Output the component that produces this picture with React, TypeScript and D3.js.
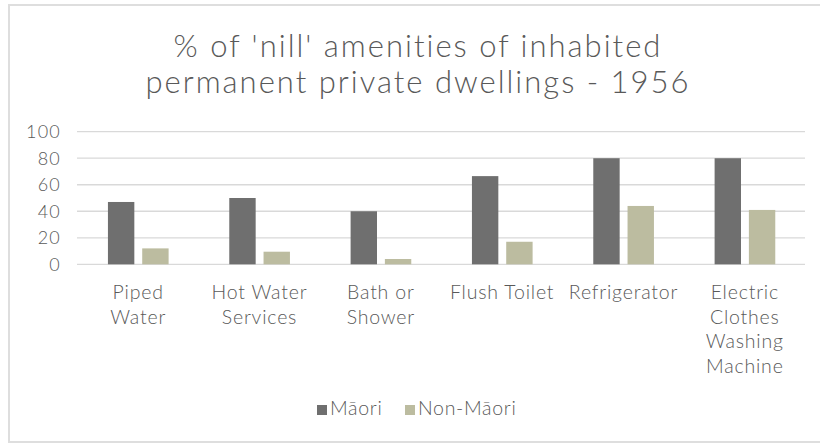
import React from "react";
import * as d3 from "d3";

const categories = ["Piped Water", "Hot Water Services", "Bath or Shower", "Flush Toilet", "Refrigerator", "Electric Clothes Washing Machine"];
const categoryLines = [["Piped", "Water"], ["Hot Water", "Services"], ["Bath or", "Shower"], ["Flush Toilet"], ["Refrigerator"], ["Electric", "Clothes", "Washing", "Machine"]];
const seriesNames = ["Māori", "Non-Māori"];
const maori = [47, 50, 40, 66.5, 80, 80];
const nonMaori = [12, 9.5, 4, 17, 44, 41];
const yTicks = [0, 20, 40, 60, 80, 100];
const titleLines = ["% of 'nill' amenities of inhabited", "permanent private dwellings - 1956"];

const W = 820, H = 445;
const FONT = "Lato, 'Open Sans', sans-serif";
const TEXT = "#595959";
const COLORS = ["#6f6f6f", "#bcbca0"];

export default function App() {
  const x0 = d3.scaleBand<string>().domain(categories).range([77, 805]).paddingInner(0).paddingOuter(0);
  const step = x0.bandwidth();
  const x1 = d3.scaleBand<string>().domain(seriesNames).range([step * 0.255, step * 0.755]).paddingInner(0.23).paddingOuter(0);
  const y = d3.scaleLinear().domain([0, 100]).range([264.3, 131.7]);
  const series = [maori, nonMaori];

  return (
    <svg width={W} height={H} style={{ position: "absolute", left: 0, top: 0, background: "#fff" }} fontFamily={FONT}>
      <rect x={9} y={5} width={830} height={437} fill="#fff" stroke="#dedede" strokeWidth={2} />
      {titleLines.map((t, i) => (
        <text key={i} x={418} y={57 + i * 36} textAnchor="middle" fontSize={31} letterSpacing={2} fill={TEXT} fontWeight={300}>{t}</text>
      ))}
      {yTicks.map((t) => (
        <g key={t}>
          <line x1={77} x2={805} y1={y(t)} y2={y(t)} stroke="#d9d9d9" strokeWidth={1.3} />
          <text x={61} y={y(t)} dy="0.36em" textAnchor="end" fontSize={18} letterSpacing={1.2} fill={TEXT} fontWeight={300}>{t}</text>
        </g>
      ))}
      {categories.map((c, ci) => (
        <g key={c} transform={`translate(${x0(c)},0)`}>
          {seriesNames.map((s, si) => (
            <rect key={s} x={x1(s)} width={x1.bandwidth()} y={y(series[si][ci])} height={y(0) - y(series[si][ci])} fill={COLORS[si]} />
          ))}
          {categoryLines[ci].map((l, li) => (
            <text key={li} x={step / 2 + 0.5} y={299 + li * 24.5} textAnchor="middle" fontSize={19.5} letterSpacing={0.8} fill={TEXT} fontWeight={300}>{l}</text>
          ))}
        </g>
      ))}
      <g>
        <rect x={317} y={405} width={10} height={10} fill={COLORS[0]} />
        <text x={330} y={415} fontSize={19.5} letterSpacing={0.7} fill={TEXT} fontWeight={300}>{seriesNames[0]}</text>
        <rect x={405} y={405} width={10} height={10} fill={COLORS[1]} />
        <text x={418} y={415} fontSize={19.5} letterSpacing={0.7} fill={TEXT} fontWeight={300}>{seriesNames[1]}</text>
      </g>
    </svg>
  );
}
